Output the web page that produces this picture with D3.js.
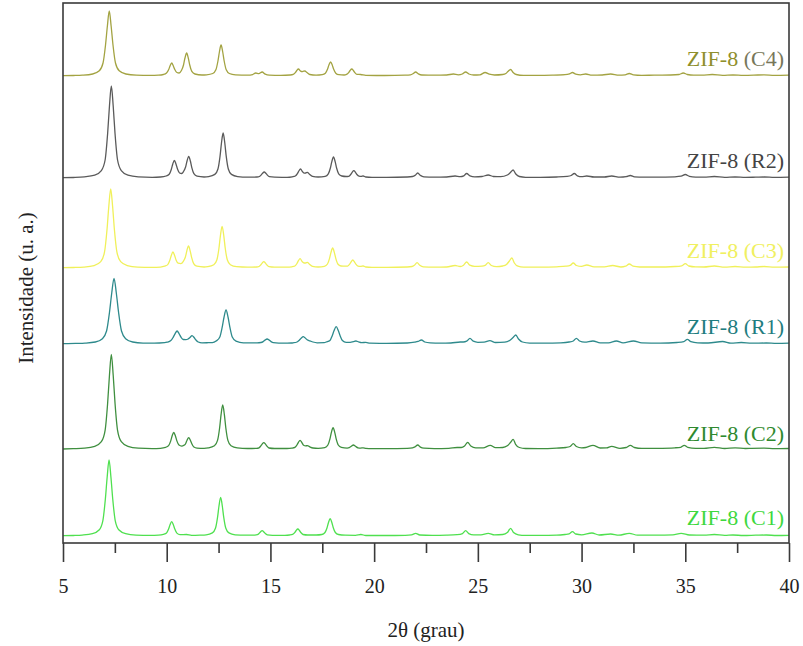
<!DOCTYPE html>
<html>
<head>
<meta charset="utf-8">
<script src="https://cdn.jsdelivr.net/npm/d3@7"></script>
<style>
  html, body { margin: 0; padding: 0; background: #fff; }
  svg { display: block; }
  text { font-family: "Liberation Serif", "Times New Roman", serif; }
</style>
</head>
<body>
<svg id="chart" width="803" height="646"></svg>
<script>
// X-ray diffraction patterns of ZIF-8 samples, stacked with vertical offsets.
// Each series: [2θ (degrees), intensity above its own baseline (a.u.)]
const xTicks = [5, 10, 15, 20, 25, 30, 35, 40];
const xMinorTicks = [7.5, 12.5, 17.5, 22.5, 27.5, 32.5, 37.5];

const seriesNames = ["ZIF-8 (C1)", "ZIF-8 (C2)", "ZIF-8 (R1)", "ZIF-8 (C3)", "ZIF-8 (R2)", "ZIF-8 (C4)"];
const seriesOffsets = [7, 93.7, 199, 275, 365, 467];
const seriesColors = ["#4fe04f", "#3f8f3f", "#2e8a8c", "#f0f05a", "#5a5a5a", "#a3a342"];
const labelColors = ["#3ed83e", "#2f8a2f", "#1f7d80", "#f0f060", "#444444", "#8f8f2c"];

const c1 = [[5,0.3],[5.5,0.5],[5.92,0.9],[6.42,2.3],[6.74,6],[6.92,15.2],[7.04,36.5],[7.13,59],[7.22,76],[7.31,59],[7.4,36.5],[7.52,15.2],[7.7,6],[8.02,2.3],[8.52,0.9],[9.2,0.6],[9.6,0.8],
  [9.84,1.6],[9.99,2.9],[10.09,6.9],[10.16,11.2],[10.24,14.3],[10.32,11.2],[10.39,6.9],[10.49,2.9],[10.64,1.4],[10.95,1.5],[11.2,0.7],[11.6,0.9],
  [11.9,1.2],[12.2,3.1],[12.35,7.7],[12.45,18.6],[12.52,30],[12.6,38.7],[12.68,30],[12.75,18.6],[12.85,7.7],[13.0,3.1],[13.3,1.2],[13.8,0.8],
  [14.25,0.9],[14.37,1.3],[14.45,2.5],[14.52,4.1],[14.6,5.3],[14.68,4.1],[14.75,2.5],[14.85,1.1],[15.1,0.7],[15.7,0.7],
  [15.92,1],[16.07,1.6],[16.17,3.4],[16.24,5.5],[16.32,7],[16.4,5.5],[16.47,3.4],[16.57,1.5],[16.8,1],[17.2,1],
  [17.48,1.5],[17.63,3.5],[17.73,8.3],[17.8,13.5],[17.88,17.3],[17.96,13.5],[18.03,8.3],[18.13,3.5],[18.28,1.5],[18.6,0.8],
  [19.1,0.7],[19.36,1.5],[19.6,0.5],[20.5,0.5],[21.5,0.7],[21.8,1.1],[22.0,2.7],[22.2,1],[22.8,0.6],[23.5,0.8],[24.0,1.3],[24.26,2.4],[24.41,5.3],[24.56,2.4],[24.8,1.1],[25.15,1.2],[25.5,2.7],[25.8,1.1],
  [26.2,1.5],[26.42,3.4],[26.58,7.7],[26.72,3.5],[26.95,1.2],[27.3,0.6],[28,0.6],[28.8,0.8],[29.2,1.5],[29.4,2.1],[29.56,4.3],[29.72,2],[30.0,1.2],[30.5,3],[30.85,1],[31.4,2],[31.8,0.8],[32.3,2.7],[32.7,0.8],
  [33.6,0.8],[34.4,1.2],[34.8,2.7],[35.2,1],[35.9,0.8],[36.4,1.5],[36.9,0.6],[37.3,1],[37.8,0.5],[38.4,0.8],[38.9,1],[39.4,0.5],[40,0.7]];

const c2 = [[5,0.3],[5.5,0.6],[6.03,1.1],[6.53,2.9],[6.85,7.6],[7.03,19],[7.15,45.6],[7.24,74],[7.33,95],[7.42,74],[7.51,45.6],[7.63,19],[7.81,7.6],[8.13,2.9],[8.63,1.1],[9.3,0.7],[9.7,1],
  [9.94,1.9],[10.09,3.7],[10.19,8.2],[10.26,13.3],[10.34,17],[10.42,13.3],[10.49,8.4],[10.59,4.2],[10.72,3.2],[10.83,4],[10.91,5.6],[10.98,9.1],[11.06,11.7],[11.14,9.1],[11.21,5.6],[11.31,2.3],[11.46,1.2],[11.8,1],
  [12.0,1.4],[12.3,3.5],[12.45,8.9],[12.55,21.3],[12.62,34.6],[12.7,44.3],[12.78,34.6],[12.85,21.3],[12.95,8.9],[13.1,3.5],[13.4,1.4],[13.9,0.8],
  [14.33,1],[14.45,1.5],[14.53,3.2],[14.6,5.2],[14.68,6.7],[14.76,5.2],[14.83,3.2],[14.93,1.3],[15.2,0.8],[15.8,0.8],
  [16.03,1.2],[16.18,2],[16.28,4.3],[16.35,7],[16.43,9],[16.51,7],[16.6,4],[16.7,3.4],[16.78,3.7],[16.9,2.4],[17.05,1.3],[17.3,1],
  [17.62,1.7],[17.77,4.3],[17.87,10.4],[17.94,17],[18.02,21.7],[18.1,17],[18.17,10.4],[18.27,4.3],[18.42,2],[18.7,1.2],
  [18.8,1.6],[18.9,3],[19.0,4.3],[19.1,3],[19.22,1.5],[19.35,1.2],[19.47,1.5],[19.6,0.9],[19.9,0.6],
  [20.6,0.6],[21.6,1],[21.85,1.5],[21.97,2.4],[22.1,4.3],[22.23,2.2],[22.4,1.1],[22.9,0.7],[23.6,1],[24.0,1.8],[24.2,1.8],[24.36,3.4],[24.51,7],[24.66,3.3],[24.9,1.5],[25.25,1.5],[25.6,4],[25.85,1.6],
  [26.2,1.8],[26.42,3.5],[26.58,7],[26.7,10],[26.82,5],[27.0,1.8],[27.3,0.8],[28.0,0.7],[28.8,1.2],[29.25,1.8],[29.45,2.8],[29.6,5.7],[29.75,2.8],[30.0,1.5],[30.2,1.8],[30.55,4],[30.9,1.3],[31.2,1.4],[31.45,3],[31.85,1],
  [32.15,1.8],[32.35,4],[32.55,1.8],[32.9,0.9],[33.6,1],[34.5,1.5],[34.78,2],[34.95,4],[35.12,1.9],[35.5,1],[35.9,1],[36.4,2],[36.9,0.8],[37.4,1.5],[37.9,0.8],[38.2,1],[38.8,1.2],[39.3,0.6],[40,0.8]];

const r1 = [[5,0.3],[5.6,0.6],[6.06,0.9],[6.56,2],[6.9,5.3],[7.1,13],[7.24,31.5],[7.35,51],[7.46,65.7],[7.57,51],[7.68,31.5],[7.82,13],[8.02,5.3],[8.36,2],[8.86,0.9],[9.4,0.8],[9.9,1.3],
  [10.02,1.8],[10.2,3.4],[10.31,6.7],[10.4,10.2],[10.5,13],[10.6,10.2],[10.69,6.8],[10.8,4.5],[10.92,4.4],[11.03,5],[11.12,6.5],[11.22,8.3],[11.32,6.5],[11.41,4],[11.52,2],[11.7,1.2],[12.0,1.3],
  [12.2,1.4],[12.38,2.9],[12.56,7],[12.67,16.3],[12.76,26.5],[12.86,34],[12.96,26.5],[13.05,16.3],[13.16,7],[13.34,2.9],[13.7,1.2],
  [14.36,1.2],[14.54,1.5],[14.65,2.4],[14.74,3.9],[14.84,5],[14.94,3.9],[15.03,2.4],[15.14,1.3],[15.4,0.9],[16.0,1],
  [16.1,1.2],[16.28,2],[16.39,3.8],[16.48,5.7],[16.58,7.3],[16.68,5.9],[16.77,4.2],[16.9,3.2],[17.05,2],[17.25,1.2],[17.6,1.3],
  [17.69,2],[17.87,3.5],[17.98,8.3],[18.07,13.5],[18.17,17.3],[18.27,13.5],[18.36,8.3],[18.47,3.5],[18.65,1.7],[18.85,1.7],
  [19.0,2.4],[19.12,3],[19.25,2.1],[19.4,1.4],[19.6,1.6],[19.8,0.8],
  [20.6,0.7],[21.6,1],[21.95,1.8],[22.12,2.6],[22.28,4],[22.44,2],[22.7,1.1],[23.2,0.8],[23.7,1],[24.15,2],[24.3,2],[24.46,2.8],[24.62,5.7],[24.78,2.8],[25.0,1.7],[25.3,1.8],[25.58,3.3],[25.85,1.5],
  [26.3,1.8],[26.55,3.8],[26.7,6.5],[26.83,9],[26.96,5],[27.15,2],[27.5,0.9],[28.2,0.8],[29,1.2],[29.4,2],[29.6,3],[29.75,5.7],[29.9,3],[30.15,1.8],[30.55,3],[30.9,1.2],[31.3,1.2],[31.68,3],[32.0,1.1],
  [32.5,3],[32.9,1.1],[33.8,0.8],[34.6,1.5],[34.93,2.4],[35.1,4.7],[35.27,2.3],[35.6,1.2],[36.1,1],[36.8,2.5],[37.2,0.8],[37.7,1.5],[38.2,0.8],[38.9,1],[39.4,0.6],[40,0.8]];

const c3 = [[5,0.3],[5.5,0.5],[6.0,0.9],[6.5,2.4],[6.82,6.3],[7.0,15.8],[7.12,38],[7.21,62],[7.3,79],[7.39,62],[7.48,38],[7.6,15.8],[7.78,6.3],[8.1,2.4],[8.6,0.9],[9.3,0.6],[9.7,0.9],
  [9.9,1.8],[10.05,3.4],[10.15,7.7],[10.22,12.5],[10.3,16],[10.38,12.5],[10.45,8],[10.55,4.8],[10.68,4.4],[10.8,6.6],[10.9,11],[10.97,17.2],[11.05,22],[11.13,17.2],[11.2,10.6],[11.3,4.4],[11.45,1.8],[11.8,1],
  [11.97,1.3],[12.27,3.3],[12.42,8.3],[12.52,20],[12.59,32.5],[12.67,41.7],[12.75,32.5],[12.82,20],[12.92,8.3],[13.07,3.3],[13.37,1.3],[13.9,0.8],
  [14.33,1],[14.45,1.5],[14.53,3],[14.6,4.9],[14.68,6.3],[14.76,4.9],[14.83,3],[14.93,1.3],[15.2,0.8],[15.8,0.8],
  [16.03,1.2],[16.18,2],[16.28,4.5],[16.35,7.3],[16.43,9.3],[16.53,6.4],[16.62,5],[16.7,5],[16.78,5.7],[16.88,3.8],[17.03,1.6],[17.3,1],
  [17.6,1.7],[17.75,4],[17.85,9.6],[17.92,15.6],[18.0,20],[18.08,15.6],[18.15,9.6],[18.25,4],[18.4,2],[18.6,1.8],
  [18.72,1.9],[18.82,3.8],[18.89,6.2],[18.97,8],[19.05,6.2],[19.12,3.8],[19.22,1.9],[19.35,1.6],[19.47,2],[19.6,1],[19.9,0.6],
  [20.6,0.6],[21.6,1],[21.82,1.5],[21.94,2.8],[22.07,5.3],[22.2,2.8],[22.37,1.2],[22.9,0.8],[23.5,1],[23.9,2.5],[24.15,1.5],[24.31,2.8],[24.46,6],[24.61,2.8],[24.85,1.6],[25.2,1.8],[25.35,2.6],[25.5,5.3],[25.65,2.5],[25.9,1.3],
  [26.2,2],[26.38,3.5],[26.52,7],[26.64,10],[26.76,5],[26.93,1.8],[27.2,0.9],[28,0.8],[28.8,1.2],[29.25,1.8],[29.45,2.6],[29.6,5],[29.75,2.5],[30.0,1.6],[30.25,3],[30.6,1.2],[31.1,1.2],[31.5,2.5],[31.9,1],
  [32.12,1.8],[32.3,4],[32.48,1.8],[32.8,1],[33.6,1],[34.5,1.5],[34.83,2.2],[35.0,4.3],[35.17,2],[35.5,1.1],[35.9,1],[36.4,2],[36.9,0.8],[37.4,1.5],[37.9,0.8],[38.4,1],[38.8,1.5],[39.3,0.8],[40,1]];

const r2 = [[5,0.3],[5.5,0.5],[6.03,1.1],[6.53,2.8],[6.85,7.4],[7.03,18],[7.15,44],[7.24,72],[7.33,92],[7.42,72],[7.51,44],[7.63,18],[7.81,7.4],[8.13,2.8],[8.63,1.1],[9.3,0.7],[9.7,1],
  [9.97,2],[10.12,3.7],[10.22,8.5],[10.29,13.8],[10.37,17.7],[10.45,13.8],[10.52,9],[10.62,5],[10.72,4.5],[10.81,6.5],[10.91,11],[10.98,17],[11.06,21.7],[11.14,17],[11.21,10.4],[11.31,4.3],[11.46,1.8],[11.8,1],
  [12.02,1.4],[12.32,3.6],[12.47,9],[12.57,21.6],[12.64,35],[12.72,45],[12.8,35],[12.87,21.6],[12.97,9],[13.12,3.6],[13.42,1.4],[13.9,0.8],
  [14.35,1],[14.47,1.5],[14.55,2.9],[14.62,4.7],[14.7,6],[14.78,4.7],[14.85,2.9],[14.95,1.3],[15.2,0.8],[15.8,0.7],
  [16.05,1.2],[16.2,2],[16.3,4.3],[16.37,7],[16.45,9],[16.55,6.2],[16.63,4.8],[16.7,5],[16.78,5.7],[16.88,3.8],[17.03,1.6],[17.3,1],
  [17.64,1.7],[17.79,4.2],[17.89,10],[17.96,16.4],[18.04,21],[18.12,16.4],[18.19,10],[18.29,4.2],[18.44,2],[18.65,1.5],
  [18.77,1.7],[18.87,3.5],[18.94,5.7],[19.02,7.3],[19.1,5.7],[19.17,3.5],[19.27,1.8],[19.37,1.6],[19.47,2],[19.6,1],[19.9,0.6],
  [20.6,0.6],[21.6,1],[21.85,1.5],[21.97,2.6],[22.1,5],[22.23,2.6],[22.4,1.2],[22.9,0.8],[23.5,1],[23.9,2],[24.15,1.3],[24.32,2.2],[24.46,4.5],[24.62,2.2],[24.85,1.2],[25.2,1.5],[25.5,3],[25.75,1.5],
  [26.1,1.3],[26.42,3],[26.57,5.5],[26.7,8],[26.83,4],[27.0,1.5],[27.3,0.7],[28,0.7],[28.8,1],[29.3,1.6],[29.5,2.5],[29.65,4.5],[29.8,2.2],[30.0,1.3],[30.25,2],[30.6,1],[31.1,1],[31.45,2],[31.85,0.8],
  [32.15,1.3],[32.35,2.5],[32.55,1.2],[33,0.8],[33.6,0.8],[34.5,1.2],[34.8,1.8],[35.0,3.5],[35.2,1.7],[35.5,0.9],[35.9,0.8],[36.4,1.5],[36.9,0.6],[37.4,1],[37.9,0.6],[38.4,0.8],[38.8,1],[39.3,0.6],[40,0.8]];

const c4 = [[5,0.3],[5.5,0.5],[5.93,0.8],[6.43,2],[6.75,5.2],[6.93,13],[7.05,31],[7.14,50],[7.23,65],[7.32,50],[7.41,31],[7.53,13],[7.71,5.2],[8.03,2],[8.53,0.8],[9.2,0.6],[9.6,0.8],
  [9.84,1.5],[9.99,3],[10.09,6.2],[10.16,10],[10.24,13],[10.32,10],[10.39,6.5],[10.49,3.5],[10.6,3],[10.71,5.5],[10.81,11],[10.88,18],[10.96,23],[11.04,18],[11.11,11],[11.21,4.6],[11.36,2],[11.7,1],
  [11.92,1.2],[12.22,2.5],[12.37,6.2],[12.47,15],[12.54,24],[12.62,31],[12.7,24],[12.77,15],[12.87,6.2],[13.02,2.5],[13.32,1.2],
  [13.9,0.8],[14.14,1.4],[14.29,3],[14.44,2.3],[14.6,4],[14.75,1.8],[14.95,0.8],[15.5,0.6],
  [15.95,1],[16.1,1.6],[16.2,3.4],[16.27,5.5],[16.35,7],[16.45,5],[16.52,4.3],[16.6,4.8],[16.66,5],[16.76,3.5],[16.9,1.5],[17.2,0.8],
  [17.5,1.3],[17.65,2.8],[17.75,6.7],[17.82,11],[17.9,14],[17.98,11],[18.05,6.7],[18.15,2.8],[18.3,1.3],
  [18.55,1],[18.67,1.6],[18.77,3.4],[18.84,5.5],[18.92,7],[19.0,5.5],[19.07,3.4],[19.17,1.6],[19.35,1.5],[19.6,0.6],
  [20.5,0.5],[21.5,0.8],[21.75,1.2],[21.87,2.2],[22.0,4],[22.13,2.2],[22.3,1],[22.9,0.8],[23.5,1],[23.82,2],[24.05,1.2],[24.25,2],[24.41,4],[24.57,2],[24.8,1],[25.1,1.2],[25.35,3.5],[25.55,1.8],[25.8,1],
  [26.2,1.5],[26.35,2.5],[26.45,4.5],[26.58,6.5],[26.7,3.5],[26.85,1.5],[27.2,0.6],[27.8,0.6],[28.6,0.8],[29.2,1.3],[29.42,2.2],[29.56,3.5],[29.72,1.8],[29.95,1.2],[30.2,2],[30.5,0.8],[31.0,1],[31.4,2],[31.8,0.8],
  [32.1,1.2],[32.3,2.5],[32.5,1.2],[32.9,0.7],[33.5,0.8],[34.3,1],[34.7,1.5],[34.9,3],[35.1,1.5],[35.4,0.8],[35.8,0.8],[36.3,1.5],[36.8,0.6],[37.3,1],[37.8,0.6],[38.3,0.8],[38.8,1.2],[39.3,0.6],[40,0.8]];

const seriesData = [c1, c2, r1, c3, r2, c4];

// ---- layout ----
const svg = d3.select("#chart");
const plot = { left: 63, right: 789, top: 3, bottom: 543 };

const x = d3.scaleLinear().domain([5, 40]).range([plot.left, plot.right]);
const y = d3.scaleLinear().domain([0, 540]).range([plot.bottom, plot.top]);

const line = d3.line()
  .x(d => x(d[0]))
  .y(d => y(d[1]))
  .curve(d3.curveMonotoneX);

// patterns
const g = svg.append("g");
seriesData.forEach((pts, i) => {
  const off = seriesOffsets[i];
  g.append("path")
    .datum(pts.map(p => [p[0], p[1] + off]))
    .attr("fill", "none")
    .attr("stroke", seriesColors[i])
    .attr("stroke-width", 1.3)
    .attr("stroke-linejoin", "round")
    .attr("d", line);
});

// series labels at the right edge
const labelBaselines = [525, 440.7, 334, 258.3, 168.3, 66];
seriesNames.forEach((name, i) => {
  const t = svg.append("text")
    .attr("x", 784)
    .attr("y", labelBaselines[i])
    .attr("text-anchor", "end")
    .attr("font-size", 22)
    .attr("fill", labelColors[i]);
  const parts = name.split(" ");
  t.append("tspan").text(parts[0] + " ");
  t.append("tspan").attr("fill", i === 5 ? "#77775a" : labelColors[i]).text(parts[1]);
});

// frame
svg.append("rect")
  .attr("x", plot.left).attr("y", plot.top)
  .attr("width", plot.right - plot.left)
  .attr("height", plot.bottom - plot.top)
  .attr("fill", "none")
  .attr("stroke", "#3a3a3a")
  .attr("stroke-width", 1.6);

// bottom axis: major and minor ticks
const axisMajor = d3.axisBottom(x)
  .tickValues(xTicks)
  .tickFormat(d3.format("d"))
  .tickSize(19)
  .tickPadding(17);
const gx = svg.append("g")
  .attr("transform", `translate(0,${plot.bottom})`)
  .call(axisMajor);
gx.select(".domain").remove();
gx.selectAll(".tick line").attr("stroke", "#3a3a3a").attr("stroke-width", 1.6);
gx.selectAll(".tick text")
  .attr("font-family", "'Liberation Serif', 'Times New Roman', serif")
  .attr("font-size", 20)
  .attr("fill", "#222");

const axisMinor = d3.axisBottom(x)
  .tickValues(xMinorTicks)
  .tickFormat("")
  .tickSize(10);
const gxm = svg.append("g")
  .attr("transform", `translate(0,${plot.bottom})`)
  .call(axisMinor);
gxm.select(".domain").remove();
gxm.selectAll(".tick line").attr("stroke", "#3a3a3a").attr("stroke-width", 1.6);

// axis titles
svg.append("text")
  .attr("x", (plot.left + plot.right) / 2)
  .attr("y", 637)
  .attr("text-anchor", "middle")
  .attr("font-size", 21)
  .attr("fill", "#222")
  .text("2θ (grau)");

svg.append("text")
  .attr("transform", "rotate(-90)")
  .attr("x", -288)
  .attr("y", 33)
  .attr("text-anchor", "middle")
  .attr("font-size", 21)
  .attr("fill", "#222")
  .text("Intensidade (u. a.)");
</script>
</body>
</html>
